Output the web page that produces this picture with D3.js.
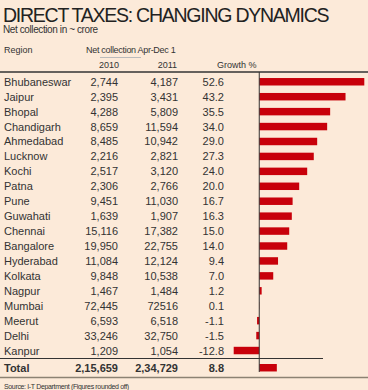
<!DOCTYPE html>
<html>
<head>
<meta charset="utf-8">
<script src="https://cdn.jsdelivr.net/npm/d3@7"></script>
<style>
  body { margin: 0; background: #fcead9; }
  svg text { font-family: Arial, "Liberation Sans", Helvetica, sans-serif; fill: #333; }
</style>
</head>
<body>
<div id="chart-container"></div>
<script>
// direct taxes table with growth bars
const svgWidth = 368;
const svgHeight = 390;

const regions = ["Bhubaneswar", "Jaipur", "Bhopal", "Chandigarh", "Ahmedabad", "Lucknow", "Kochi", "Patna", "Pune", "Guwahati",
    "Chennai", "Bangalore", "Hyderabad", "Kolkata", "Nagpur", "Mumbai", "Meerut", "Delhi", "Kanpur"];
const col2010 = ["2,744", "2,395", "4,288", "8,659", "8,485", "2,216", "2,517", "2,306", "9,451", "1,639",
    "15,116", "19,950", "11,084", "9,848", "1,467", "72,445", "6,593", "33,246", "1,209"];
const col2011 = ["4,187", "3,431", "5,809", "11,594", "10,942", "2,821", "3,120", "2,766", "11,030", "1,907",
    "17,382", "22,755", "12,124", "10,538", "1,484", "72516", "6,518", "32,750", "1,054"];
const growth = [52.6, 43.2, 35.5, 34.0, 29.0, 27.3, 24.0, 20.0, 16.7, 16.3, 15.0, 14.0, 9.4, 7.0, 1.2, 0.1, -1.1, -1.5, -12.8];
const total = { label: "Total", y2010: "2,15,659", y2011: "2,34,729", growth: 8.8 };

const svg = d3.select("#chart-container")
    .append("svg")
    .attr("width", svgWidth)
    .attr("height", svgHeight);

svg.append("rect")
    .attr("width", svgWidth)
    .attr("height", svgHeight)
    .attr("fill", "#fcead9");

// scales
const x = d3.scaleLinear()
    .domain([-12.8, 52.6])
    .range([233.7, 364.3]);

const y = d3.scaleBand()
    .domain(regions)
    .range([74.3, 358])
    .paddingInner(0.5)
    .paddingOuter(0.25);

const bw = y.bandwidth();
const totalY = 364;

// title + subtitle
svg.append("text")
    .text("DIRECT TAXES: CHANGING DYNAMICS")
    .attr("x", 3)
    .attr("y", 21.5)
    .attr("font-size", 19.5)
    .attr("letter-spacing", -1.25)
    .style("fill", "#222");

svg.append("text")
    .text("Net collection in ~ crore")
    .attr("x", 3)
    .attr("y", 33)
    .attr("font-size", 10)
    .attr("letter-spacing", -0.4);

// header
svg.append("text").text("Region")
    .attr("x", 4).attr("y", 53).attr("font-size", 9);
svg.append("text").text("Net collection Apr-Dec 1")
    .attr("x", 86).attr("y", 53).attr("font-size", 9)
    .attr("letter-spacing", -0.3);
svg.append("line")
    .attr("x1", 100).attr("x2", 141)
    .attr("y1", 57.5).attr("y2", 57.5)
    .attr("stroke", "#bbb").attr("stroke-width", 1);
svg.append("text").text("2010")
    .attr("x", 119).attr("y", 68).attr("font-size", 9).attr("text-anchor", "end");
svg.append("text").text("2011")
    .attr("x", 177).attr("y", 68).attr("font-size", 9).attr("text-anchor", "end");
svg.append("text").text("Growth %")
    .attr("x", 217).attr("y", 68).attr("font-size", 9);

// rules
svg.append("line")
    .attr("x1", 0).attr("x2", svgWidth)
    .attr("y1", 72).attr("y2", 72)
    .attr("stroke", "#333").attr("stroke-width", 1.5);
svg.append("line")
    .attr("x1", 0).attr("x2", 323)
    .attr("y1", 358.5).attr("y2", 358.5)
    .attr("stroke", "#333").attr("stroke-width", 1);
svg.append("line")
    .attr("x1", 0).attr("x2", svgWidth)
    .attr("y1", 377.5).attr("y2", 377.5)
    .attr("stroke", "#8c8273").attr("stroke-width", 1.5);

// rows
const rows = svg.selectAll(".row")
    .data(regions)
    .enter()
    .append("g")
    .attr("class", "row");

rows.append("rect")
    .attr("x", (d, i) => x(Math.min(0, growth[i])))
    .attr("y", d => y(d))
    .attr("width", (d, i) => Math.abs(x(growth[i]) - x(0)))
    .attr("height", bw)
    .attr("fill", "#c8000a");

rows.append("text")
    .text(d => d)
    .attr("x", 4)
    .attr("y", d => y(d) + bw / 2 + 4)
    .attr("font-size", 11);

rows.append("text")
    .text((d, i) => col2010[i])
    .attr("x", 118)
    .attr("y", d => y(d) + bw / 2 + 4)
    .attr("font-size", 11)
    .attr("text-anchor", "end");

rows.append("text")
    .text((d, i) => col2011[i])
    .attr("x", 178)
    .attr("y", d => y(d) + bw / 2 + 4)
    .attr("font-size", 11)
    .attr("text-anchor", "end");

rows.append("text")
    .text((d, i) => growth[i].toFixed(1))
    .attr("x", 224)
    .attr("y", d => y(d) + bw / 2 + 4)
    .attr("font-size", 11)
    .attr("text-anchor", "end");

// total row
svg.append("rect")
    .attr("x", x(0))
    .attr("y", totalY)
    .attr("width", x(total.growth) - x(0))
    .attr("height", bw)
    .attr("fill", "#c8000a");

const totalRow = svg.append("g")
    .attr("font-size", 11)
    .attr("font-weight", "bold");
totalRow.append("text").text(total.label)
    .attr("x", 4).attr("y", totalY + bw / 2 + 4);
totalRow.append("text").text(total.y2010)
    .attr("x", 118).attr("y", totalY + bw / 2 + 4).attr("text-anchor", "end");
totalRow.append("text").text(total.y2011)
    .attr("x", 178).attr("y", totalY + bw / 2 + 4).attr("text-anchor", "end");
totalRow.append("text").text(total.growth.toFixed(1))
    .attr("x", 224).attr("y", totalY + bw / 2 + 4).attr("text-anchor", "end");

// zero axis
svg.append("line")
    .attr("x1", x(0)).attr("x2", x(0))
    .attr("y1", 72).attr("y2", 372)
    .attr("stroke", "#333").attr("stroke-width", 1);

// source
svg.append("text")
    .text("Source: I-T Department (Figures rounded off)")
    .attr("x", 4)
    .attr("y", 388.5)
    .attr("font-size", 7)
    .attr("letter-spacing", -0.35);
</script>
</body>
</html>
